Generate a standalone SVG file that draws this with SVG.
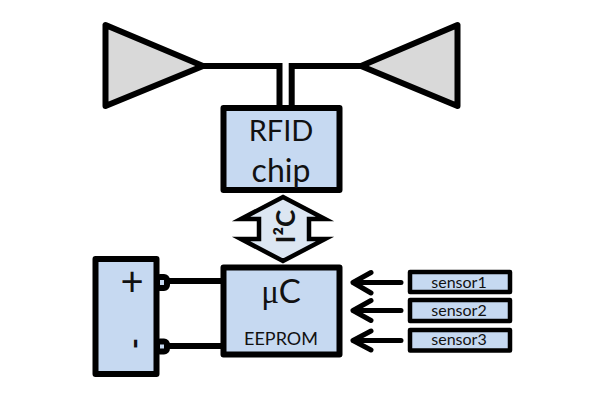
<svg xmlns="http://www.w3.org/2000/svg" width="590" height="406" viewBox="0 0 590 406">
<style>
.box{fill:#c6d9f1;stroke:#000;stroke-width:6;stroke-linejoin:round}
.ant{fill:#d9d9d9;stroke:#000;stroke-width:6;stroke-linejoin:round}
.wire{fill:none;stroke:#000;stroke-width:6}
.sen{fill:#c6d9f1;stroke:#000;stroke-width:4.5;stroke-linejoin:round}
.arr{fill:none;stroke:#000;stroke-width:5;stroke-linecap:round;stroke-linejoin:round}
.term{fill:#c6d9f1;stroke:#000;stroke-width:6}
text{font-family:Lato,"Liberation Sans",sans-serif;fill:#111;text-anchor:middle}
.s{font-size:16px}
</style>
<rect width="590" height="406" fill="#fff"/>
<g id="connectors">
<path class="wire" d="M197 66H279.500V108M368 66H291.700V108"/>
<path class="wire" d="M168 281H223M168 346H223"/>
<path class="arr" d="M401 282.500H353M371 272.500L353 282.500L371 293"/>
<path class="arr" d="M401 310.500H353M371 300.500L353 310.500L371 320.500"/>
<path class="arr" d="M401 340.500H353M371 331L353 340.500L371 350"/>
</g>
<g id="antenna-left"><polygon class="ant" points="105.500,25 105.500,106 203,66"/></g>
<g id="antenna-right"><polygon class="ant" points="457.500,25 457.500,106 361,66"/></g>
<g id="rfid-chip"><rect class="box" x="223.500" y="108" width="116" height="82"/>
<text x="281" y="141" font-size="29">RFID</text><text x="281" y="182" font-size="32">chip</text></g>
<g id="i2c"><polygon points="283,197 325,219 309,219 309,239 325,239 283,261 241,239 259,239 259,219 241,219" fill="#dce6f2" stroke="#000" stroke-width="4.500" stroke-miterlimit="10"/>
<text transform="translate(295 226.500) rotate(-90)" font-size="26" font-weight="700">I²C</text></g>
<g id="battery"><rect class="term" x="157" y="277" width="10" height="11" rx="3"/><rect class="term" x="157" y="341.500" width="10" height="10" rx="3"/>
<rect class="box" x="95.500" y="259" width="61" height="115"/>
<text x="132" y="296" font-size="40">+</text><text transform="translate(125.500 343.500) rotate(90)" font-size="30" font-weight="700">-</text></g>
<g id="uc"><rect class="box" x="223.500" y="267.500" width="116" height="87"/>
<text x="281" y="303" font-size="33"><tspan font-family="Liberation Serif">μ</tspan>C</text><text x="281" y="345" font-size="18">EEPROM</text></g>
<g id="sensor1"><rect class="sen" x="410" y="272" width="100" height="20"/><text class="s" x="459" y="288">sensor1</text></g>
<g id="sensor2"><rect class="sen" x="410" y="300" width="100" height="21"/><text class="s" x="459" y="316">sensor2</text></g>
<g id="sensor3"><rect class="sen" x="410" y="330" width="100" height="20.500"/><text class="s" x="459" y="345">sensor3</text></g>
</svg>
